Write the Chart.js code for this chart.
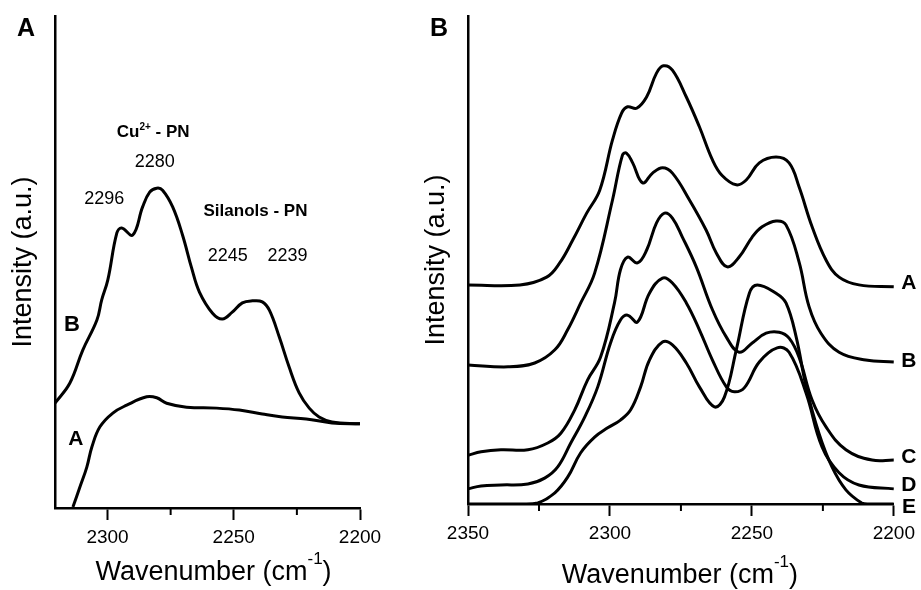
<!DOCTYPE html>
<html>
<head>
<meta charset="utf-8">
<script src="https://cdn.jsdelivr.net/npm/chart.js@4.4.1/dist/chart.umd.min.js"></script>
<style>
  body { margin: 0; background: #fff; }
  #wrap { position: relative; width: 921px; height: 590px; }
  canvas { position: absolute; top: 0; }
</style>
</head>
<body>
<div id="wrap">
  <canvas id="chartA" width="413" height="590" style="left:0"></canvas>
  <canvas id="chartB" width="508" height="590" style="left:413px"></canvas>
</div>
<script>
const FONT = "'Liberation Sans', Arial, Helvetica, sans-serif";

// Panel A - wavenumber (cm-1) / intensity (a.u.)
const aCurveAWn = [2313.7, 2310.9, 2308.2, 2306.2, 2303.0, 2297.9, 2292.4, 2284.5, 2280.5, 2276.6, 2268.7, 2256.8, 2247.8, 2238.7, 2230.8, 2221.3, 2211.1, 2200];
const aCurveAInt = [0.2, 4.3, 8.3, 12.4, 16.5, 19.3, 20.9, 22.6, 22.4, 21.3, 20.5, 20.3, 19.9, 19.1, 18.5, 18.1, 17.3, 17.1];
const aCurveBWn = [2320.8, 2314.9, 2309.8, 2304.2, 2302.3, 2299.9, 2296.3, 2294.4, 2290.0, 2286.1, 2283.3, 2280.5, 2278.2, 2274.2, 2270.3, 2266.7, 2263.6, 2258.4, 2254.5, 2250.6, 2246.6, 2242.6, 2238.7, 2235.9, 2232.0, 2228.1, 2224.1, 2220.1, 2216.2, 2211.1, 2200];
const aCurveBInt = [21.3, 25.4, 32.1, 38.2, 42.3, 46.3, 55.9, 56.9, 55.5, 61.2, 64.2, 65.0, 64.6, 61.2, 55.5, 48.8, 43.9, 39.6, 38.4, 39.8, 41.7, 42.1, 41.9, 40.2, 34.8, 28.7, 23.4, 20.3, 18.5, 17.5, 17.1];

// Panel B
const bCurveAWn = [2350, 2331.7, 2322.3, 2317.7, 2313.1, 2308.2, 2303.6, 2299.1, 2295.9, 2293.8, 2290.6, 2287.1, 2283.6, 2281.2, 2278.0, 2273.1, 2268.5, 2263.9, 2260.5, 2255.5, 2252.0, 2247.4, 2241.5, 2236.9, 2233.4, 2228.8, 2223.9, 2219.3, 2212.3, 2200];
const bCurveAInt = [44.9, 44.9, 46.5, 49.4, 54.1, 59.6, 64.3, 74.6, 80.1, 81.4, 81.1, 83.4, 88.3, 89.8, 88.9, 83.4, 77.3, 70.5, 67.3, 65.4, 66.4, 69.9, 71.1, 69.9, 65.0, 56.8, 50.0, 46.5, 44.9, 44.5];
const bCurveBWn = [2350, 2335.9, 2326.5, 2319.4, 2314.9, 2310.3, 2305.4, 2299.1, 2295.6, 2294.2, 2292.0, 2288.5, 2285.0, 2281.5, 2278.0, 2272.0, 2266.1, 2262.5, 2258.7, 2254.5, 2249.9, 2246.4, 2241.5, 2238.0, 2233.4, 2229.9, 2225.7, 2219.3, 2209.9, 2200];
const bCurveBInt = [28.5, 28.1, 28.9, 31.6, 35.7, 41.2, 47.3, 62.3, 71.5, 71.9, 69.9, 65.8, 67.8, 68.9, 67.8, 62.3, 56.1, 51.4, 48.6, 50.6, 54.7, 56.8, 58.0, 57.2, 49.6, 40.5, 35.0, 31.1, 29.5, 29.1];
const bCurveCWn = [2350, 2345.4, 2338.4, 2328.9, 2321.9, 2317.3, 2312.4, 2307.9, 2303.3, 2298.4, 2296.3, 2293.8, 2290.3, 2287.1, 2283.6, 2280.8, 2278.0, 2274.5, 2269.6, 2263.9, 2259.0, 2254.5, 2249.9, 2245.0, 2240.4, 2236.9, 2233.4, 2228.8, 2223.9, 2216.9, 2207.7, 2200];
const bCurveCInt = [10.0, 10.7, 11.1, 11.1, 12.5, 14.5, 19.3, 25.4, 30.1, 41.2, 48.0, 50.6, 49.4, 52.0, 57.6, 59.6, 58.6, 54.7, 48.6, 39.8, 34.2, 31.1, 33.0, 35.0, 35.2, 34.0, 30.1, 21.3, 15.8, 11.1, 9.0, 9.0];
const bCurveDWn = [2350, 2345.4, 2338.4, 2328.9, 2323.0, 2318.4, 2313.8, 2308.9, 2304.3, 2299.8, 2296.3, 2293.8, 2290.3, 2286.1, 2281.5, 2278.0, 2273.1, 2268.5, 2263.9, 2259.0, 2256.2, 2252.7, 2247.4, 2241.1, 2236.9, 2230.9, 2225.3, 2219.3, 2212.3, 2200];
const bCurveDInt = [3.1, 3.7, 3.9, 4.1, 5.3, 7.6, 12.5, 17.8, 24.0, 33.0, 37.7, 38.7, 37.3, 43.2, 46.3, 45.3, 41.2, 35.7, 29.5, 24.0, 23.0, 23.8, 29.1, 32.0, 31.1, 22.7, 11.7, 6.4, 3.9, 3.1];
const bCurveEWn = [2350, 2330, 2325.4, 2319.4, 2314.9, 2310.3, 2305.4, 2300.8, 2296.3, 2292.7, 2289.2, 2286.1, 2281.5, 2278.0, 2273.1, 2268.5, 2263.2, 2259.7, 2255.5, 2250.9, 2248.1, 2241.5, 2238.0, 2234.4, 2230.9, 2226.4, 2221.8, 2216.9, 2211.3, 2209, 2200];
const bCurveEInt = [0, 0, 0.2, 2.3, 5.5, 10.5, 13.7, 15.6, 17.2, 19.3, 24.0, 29.5, 33.2, 32.6, 28.9, 24.0, 19.9, 21.9, 31.6, 43.2, 44.9, 43.2, 41.2, 34.2, 24.0, 14.5, 7.6, 2.9, 0.2, 0, 0];

// axis ticks
const aTicks = [2300, 2250, 2200];
const aMinorTicks = [2275, 2225];
const bTicks = [2350, 2300, 2250, 2200];
const bMinorTicks = [2325, 2275, 2225];

function toPoints(wn, val) {
  return wn.map((w, i) => ({ x: w, y: val[i] }));
}

function lineSet(wn, val) {
  return {
    data: toPoints(wn, val),
    borderColor: '#000',
    borderWidth: 3,
    pointRadius: 0,
    tension: 0.4,
    borderJoinStyle: 'round',
    fill: false
  };
}

// text made of pieces, some raised (superscripts)
function drawParts(ctx, parts, cx, cy, size, weight) {
  const fontFor = p => weight + ' ' + Math.round(size * (p.s || 1)) + 'px ' + FONT;
  let w = 0;
  parts.forEach(p => { ctx.font = fontFor(p); w += ctx.measureText(p.t).width; });
  let x = cx - w / 2;
  ctx.textAlign = 'left';
  ctx.textBaseline = 'middle';
  parts.forEach(p => {
    ctx.font = fontFor(p);
    ctx.fillText(p.t, x, cy - size * (p.r || 0));
    x += ctx.measureText(p.t).width;
  });
}

const textPlugin = {
  id: 'panelText',
  afterDraw(chart, args, opts) {
    const { ctx, chartArea } = chart;
    const x = chart.scales.x, y = chart.scales.y;
    ctx.save();
    ctx.fillStyle = '#000';
    ctx.strokeStyle = '#000';
    ctx.lineWidth = 2;
    opts.minor.forEach(v => {
      const px = x.getPixelForValue(v);
      ctx.beginPath();
      ctx.moveTo(px, chartArea.bottom);
      ctx.lineTo(px, chartArea.bottom + 7);
      ctx.stroke();
    });
    ctx.font = 'bold 25px ' + FONT;
    ctx.textAlign = 'left';
    ctx.textBaseline = 'alphabetic';
    ctx.fillText(opts.letter, 17, 36);
    drawParts(ctx, [{ t: 'Wavenumber (cm' }, { t: '-1', s: 0.62, r: 0.52 }, { t: ')' }],
      (chartArea.left + chartArea.right) / 2 + opts.titleDx, opts.titleY, 27, 'normal');
    opts.notes.forEach(n => drawParts(ctx, n.parts, x.getPixelForValue(n.wn), y.getPixelForValue(n.v), n.size, n.bold ? 'bold' : 'normal'));
    ctx.restore();
  }
};

function scalesFor(min, max, ticks, axisHeight) {
  return {
    x: {
      type: 'linear',
      reverse: true,
      min: min,
      max: max,
      afterBuildTicks: s => { s.ticks = ticks.map(v => ({ value: v })); },
      afterFit: s => { s.height = axisHeight; },
      ticks: { color: '#000', font: { family: FONT, size: 19 }, padding: 6, maxRotation: 0, autoSkip: false, callback: v => String(v) },
      grid: { drawOnChartArea: false, drawTicks: true, tickLength: 12, tickWidth: 2, tickColor: '#000' },
      border: { color: '#000', width: 2.5 }
    },
    y: {
      min: 0,
      max: 100,
      afterFit: s => { s.width = 55; },
      ticks: { display: false },
      grid: { display: false, drawTicks: false },
      border: { color: '#000', width: 2.5 },
      title: { display: true, text: 'Intensity (a.u.)', color: '#000', font: { family: FONT, size: 27 }, padding: { top: 7, bottom: 0 } }
    }
  };
}

const commonOpts = {
  responsive: false,
  devicePixelRatio: 1,
  animation: false,
  events: []
};

new Chart(document.getElementById('chartA'), {
  type: 'line',
  data: {
    datasets: [
      lineSet(aCurveAWn, aCurveAInt),
      lineSet(aCurveBWn, aCurveBInt)
    ]
  },
  options: {
    ...commonOpts,
    layout: { padding: { top: 16, right: 53, left: 0, bottom: 0 } },
    scales: scalesFor(2200, 2320.8, aTicks, 82),
    plugins: {
      legend: { display: false },
      tooltip: { enabled: false },
      panelText: {
        letter: 'A',
        minor: aMinorTicks,
        titleDx: 6,
        titleY: 573,
        notes: [
          { parts: [{ t: 'Cu' }, { t: '2+', s: 0.6, r: 0.3 }, { t: ' - PN' }], wn: 2281.9, v: 76.4, size: 17, bold: true },
          { parts: [{ t: '2280' }], wn: 2281.3, v: 70.3, size: 18 },
          { parts: [{ t: '2296' }], wn: 2301.3, v: 62.7, size: 18 },
          { parts: [{ t: 'Silanols - PN' }], wn: 2241.4, v: 60.4, size: 17, bold: true },
          { parts: [{ t: '2245' }], wn: 2252.4, v: 51.2, size: 18 },
          { parts: [{ t: '2239' }], wn: 2228.7, v: 51.2, size: 18 },
          { parts: [{ t: 'B' }], wn: 2314.1, v: 37.2, size: 22, bold: true },
          { parts: [{ t: 'A' }], wn: 2312.5, v: 14.0, size: 21, bold: true }
        ]
      }
    }
  },
  plugins: [textPlugin]
});

new Chart(document.getElementById('chartB'), {
  type: 'line',
  data: {
    datasets: [
      lineSet(bCurveAWn, bCurveAInt),
      lineSet(bCurveBWn, bCurveBInt),
      lineSet(bCurveCWn, bCurveCInt),
      lineSet(bCurveDWn, bCurveDInt),
      lineSet(bCurveEWn, bCurveEInt)
    ]
  },
  options: {
    ...commonOpts,
    layout: { padding: { top: 16, right: 24, left: 0, bottom: 0 } },
    scales: scalesFor(2200, 2350, bTicks, 86),
    plugins: {
      legend: { display: false },
      tooltip: { enabled: false },
      panelText: {
        letter: 'B',
        minor: bMinorTicks,
        titleDx: -1,
        titleY: 576,
        notes: [
          { parts: [{ t: 'A' }], wn: 2194.7, v: 45.3, size: 21, bold: true },
          { parts: [{ t: 'B' }], wn: 2194.7, v: 29.3, size: 21, bold: true },
          { parts: [{ t: 'C' }], wn: 2194.7, v: 9.6, size: 21, bold: true },
          { parts: [{ t: 'D' }], wn: 2194.7, v: 3.9, size: 21, bold: true },
          { parts: [{ t: 'E' }], wn: 2194.7, v: -0.6, size: 21, bold: true }
        ]
      }
    }
  },
  plugins: [textPlugin]
});
</script>
</body>
</html>
